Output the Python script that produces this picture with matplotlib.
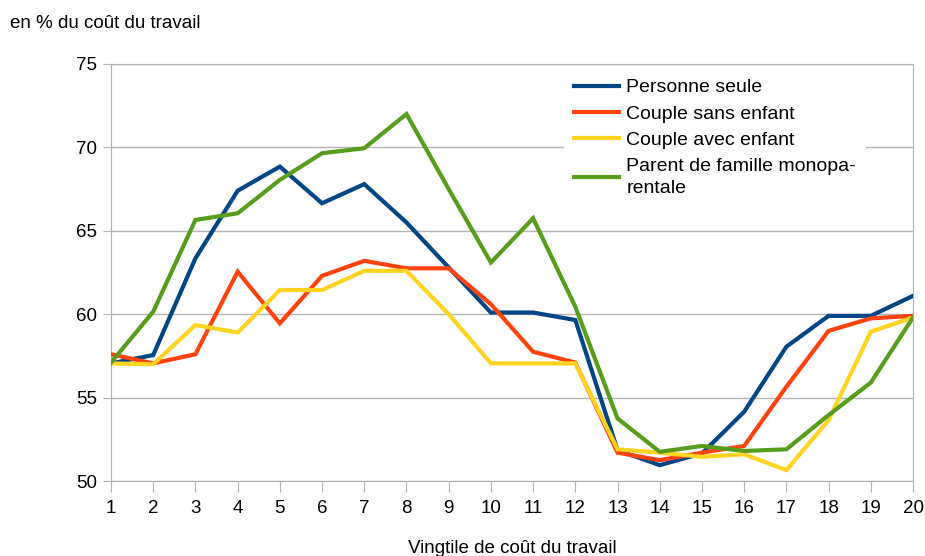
import matplotlib
matplotlib.use("Agg")
import matplotlib.pyplot as plt

plt.rcParams['font.family'] = ['Liberation Sans', 'DejaVu Sans']

# vingtiles 1..20
vingtiles = list(range(1, 21))

personne_seule = [57.05, 57.55, 63.35, 67.4, 68.85, 66.65, 67.8, 65.5, 62.8, 60.1,
                  60.1, 59.65, 51.85, 50.95, 51.65, 54.15, 58.05, 59.9, 59.9, 61.1]
couple_sans = [57.6, 57.05, 57.6, 62.55, 59.45, 62.3, 63.2, 62.75, 62.75, 60.6,
               57.75, 57.1, 51.7, 51.25, 51.7, 52.1, 55.65, 59.0, 59.75, 59.9]
couple_avec = [57.05, 57.0, 59.35, 58.9, 61.45, 61.45, 62.6, 62.6, 60.0, 57.05,
               57.05, 57.05, 51.9, 51.7, 51.45, 51.6, 50.65, 53.65, 58.95, 59.8]
parent_mono = [57.1, 60.15, 65.65, 66.05, 68.05, 69.65, 69.95, 72.0, 67.5, 63.1,
               65.75, 60.45, 53.75, 51.75, 52.1, 51.8, 51.9, 53.95, 55.9, 59.8]

series = [
    ("Personne seule", personne_seule, "#004586"),
    ("Couple sans enfant", couple_sans, "#ff420e"),
    ("Couple avec enfant", couple_avec, "#ffd320"),
    ("Parent de famille monopa-\nrentale", parent_mono, "#579d1c"),
]

fig = plt.figure(figsize=(9.25, 5.56), dpi=100)
ax = fig.add_axes([111 / 925, 1 - 481 / 556, 802 / 925, 417 / 556])

for label, vals, color in series:
    ax.plot(vingtiles, vals, color=color, linewidth=3, label=label,
            solid_joinstyle='miter', zorder=3)

ax.set_xlim(1, 20)
ax.set_ylim(50, 75)
ax.set_xticks(vingtiles)
ax.set_yticks([50, 55, 60, 65, 70, 75])
ax.yaxis.grid(True, color='#b3b3b3', linewidth=1)
ax.set_axisbelow(True)
for s in ax.spines.values():
    s.set_color('#b3b3b3')
ax.tick_params(axis='x', colors='#b3b3b3', length=8, labelcolor='black',
               labelsize=13.5, pad=6)
ax.tick_params(axis='y', colors='#b3b3b3', length=6, labelcolor='black',
               labelsize=13.5, pad=4)

ax.set_xlabel("Vingtile de coût du travail", fontsize=13.5, labelpad=16)
fig.text(10 / 925, 1 - 23 / 556, "en % du coût du travail", fontsize=13.5,
         va='center', ha='left')

leg = ax.legend(loc='upper left', bbox_to_anchor=(0.565, 0.988), fontsize=14,
                frameon=True, fancybox=False, edgecolor='none',
                facecolor='white', framealpha=1, handlelength=2.3,
                handletextpad=0.4, labelspacing=0.45, borderpad=0.5,
                borderaxespad=0)
leg.get_texts()[3].set_linespacing(1.42)

fig.savefig("out.png", dpi=100)
